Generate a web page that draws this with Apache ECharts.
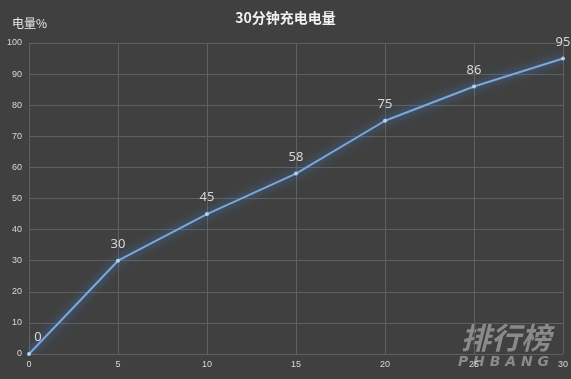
<!DOCTYPE html>
<html><head><meta charset="utf-8">
<script src="https://cdn.jsdelivr.net/npm/echarts@6/dist/echarts.min.js"></script>
<style>html,body{margin:0;padding:0;background:#404040}#c{width:571px;height:379px}</style>
</head><body><div id="c"></div>
<script>
var minutes = [0, 5, 10, 15, 20, 25, 30];
var charge = [0, 30, 45, 58, 75, 86, 95];
var title = '30分钟充电电量';
var yName = '电量%';

var chart = echarts.init(document.getElementById('c'));
chart.setOption({
  backgroundColor: '#404040',
  title: {text: title, left: 'center', top: 6,
    textStyle: {color: '#f0f0f0', fontSize: 14, fontWeight: 'bold', fontFamily: 'Noto Sans CJK SC'}},
  grid: {left: 29, right: 8, top: 43, bottom: 25},
  xAxis: {type: 'value', min: 0, max: 30, interval: 5,
    axisLine: {show: false}, axisTick: {show: false},
    axisLabel: {color: '#d8d8d8', fontSize: 9, margin: 6},
    splitLine: {show: true, lineStyle: {color: '#606060', width: 1}}},
  yAxis: {type: 'value', min: 0, max: 100, interval: 10,
    name: yName, nameLocation: 'end', nameGap: 14,
    nameTextStyle: {color: '#e8e8e8', fontSize: 12, align: 'left', padding: [0, 0, 0, -17], fontFamily: 'Noto Sans CJK SC'},
    axisLine: {show: false}, axisTick: {show: false},
    axisLabel: {color: '#d8d8d8', fontSize: 9, margin: 7},
    splitLine: {show: true, lineStyle: {color: '#606060', width: 1}}},
  graphic: [
    {type: 'text', right: 20, bottom: 26, style: {text: '排行榜', fill: '#8a8a8a', font: 'italic bold 30px "Noto Sans CJK SC"'}},
    {type: 'text', right: 22, bottom: 10, style: {text: 'P H B A N G', fill: '#8a8a8a', font: 'italic bold 14px "DejaVu Sans"'}}
  ],
  series: [{
    type: 'line',
    data: minutes.map(function (m, i) {
      var d = {value: [m, charge[i]]};
      if (i === 0) d.label = {offset: [9, 0]};
      return d;
    }),
    symbol: 'circle', symbolSize: 4,
    itemStyle: {color: '#b5d0ee'},
    lineStyle: {color: '#7aa8dc', width: 2, shadowColor: 'rgba(70,140,230,1)', shadowBlur: 10},
    label: {show: true, position: 'top', distance: 8, color: '#d6d6d6', fontSize: 13, fontFamily: 'Noto Sans'},
    z: 5
  }]
});
</script></body></html>
